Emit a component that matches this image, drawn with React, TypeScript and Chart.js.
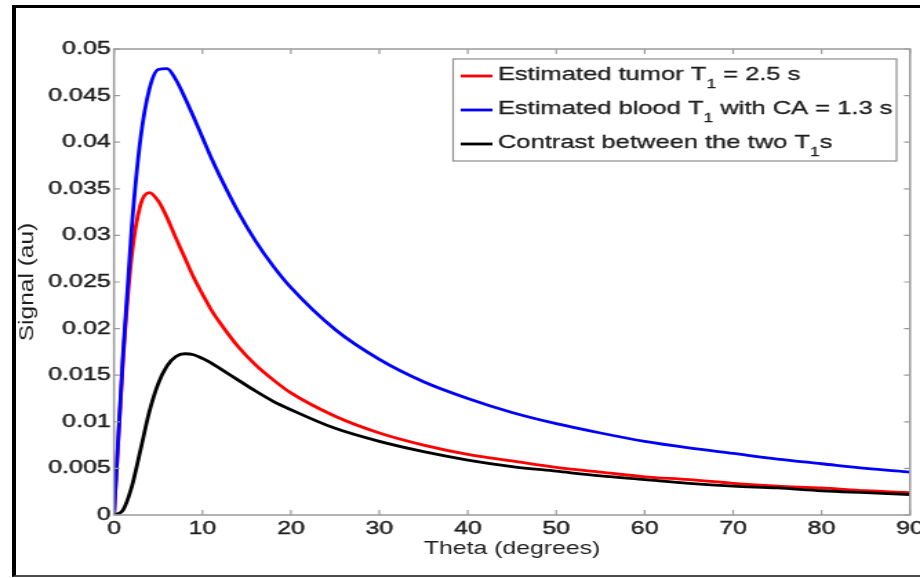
import React, { useEffect, useRef } from "react";
import { Chart, registerables } from "chart.js";

Chart.register(...registerables);

// ---- data ----
const thetaDeg = [0, 1, 2, 3, 4, 5, 6, 7, 8, 9, 10, 11, 12, 14, 16, 18, 20, 25, 30, 35, 40, 45, 50, 55, 60, 65, 70, 75, 80, 85, 90];
const tumorSignal = [0, 0.0164, 0.0278, 0.0333, 0.0346, 0.0337, 0.0319, 0.0297, 0.0276, 0.0255, 0.0237, 0.022, 0.0206, 0.0181, 0.0161, 0.0145, 0.0131, 0.0106, 0.0088, 0.0075, 0.0065, 0.0058, 0.0051, 0.0046, 0.0041, 0.0038, 0.0034, 0.0031, 0.0029, 0.0026, 0.0024];
const bloodSignal = [0, 0.0169, 0.0308, 0.0404, 0.0457, 0.0478, 0.0479, 0.0467, 0.0448, 0.0427, 0.0405, 0.0383, 0.0363, 0.0326, 0.0294, 0.0267, 0.0244, 0.0199, 0.0167, 0.0143, 0.0125, 0.011, 0.0098, 0.0088, 0.0079, 0.0072, 0.0066, 0.006, 0.0055, 0.005, 0.0046];
const contrastSignal = [0, 0.0005, 0.003, 0.007, 0.0111, 0.0141, 0.016, 0.017, 0.0173, 0.0172, 0.0168, 0.0163, 0.0157, 0.0145, 0.0133, 0.0122, 0.0113, 0.0093, 0.0079, 0.0068, 0.0059, 0.0052, 0.0047, 0.0042, 0.0038, 0.0034, 0.0031, 0.0029, 0.0026, 0.0024, 0.0022];

const seriesColors = ["#ff0000", "#0000ff", "#000000"];
const legendRows = [
  [{ t: "Estimated tumor T" }, { t: "1", sub: true }, { t: " = 2.5 s" }],
  [{ t: "Estimated blood T" }, { t: "1", sub: true }, { t: " with CA = 1.3 s" }],
  [{ t: "Contrast between the two T" }, { t: "1", sub: true }, { t: "s" }],
];
const xMin = 0, xMax = 90, xStep = 10;
const yMin = 0, yMax = 0.05, yStep = 0.005;
const xTitle = "Theta (degrees)";
const yTitle = "Signal (au)";

// ---- layout ----
const FULL_W = 920;
const H = 578;
const W = 667; // internal width; stretched horizontally to 920
const S = FULL_W / W;
const PLOT_LEFT = 114 / S;
const PLOT_RIGHT = 910 / S;
const PLOT_TOP = 49;
const PLOT_BOTTOM = 515;
const FONT = '"Liberation Sans", Arial, Helvetica, sans-serif';
const TEXT_COLOR = "#1e1e1e";
const AXIS_COLOR = "#9a9a9a";

const boxPlugin = {
  id: "matlabBox",
  afterDatasetsDraw(chart: any) {
    const { ctx, chartArea: a, scales } = chart;
    ctx.save();
    ctx.strokeStyle = AXIS_COLOR;
    ctx.lineWidth = 1.5;
    ctx.strokeRect(a.left, a.top, a.right - a.left, a.bottom - a.top);
    ctx.lineWidth = 1.2;
    ctx.beginPath();
    for (const t of scales.x.ticks) {
      const px = scales.x.getPixelForValue(t.value);
      ctx.moveTo(px, a.bottom); ctx.lineTo(px, a.bottom - 5);
      ctx.moveTo(px, a.top); ctx.lineTo(px, a.top + 5);
    }
    for (const t of scales.y.ticks) {
      const py = scales.y.getPixelForValue(t.value);
      ctx.moveTo(a.left, py); ctx.lineTo(a.left + 4.3, py);
      ctx.moveTo(a.right, py); ctx.lineTo(a.right - 4.3, py);
    }
    ctx.stroke();
    ctx.restore();
  },
};

const yTitlePlugin = {
  id: "yTitle",
  afterDraw(chart: any) {
    const ctx = chart.ctx;
    const a = chart.chartArea;
    ctx.save();
    ctx.translate(20, (a.top + a.bottom) / 2);
    ctx.rotate(-Math.PI / 2);
    ctx.scale(1.75, 1);
    ctx.font = `14px ${FONT}`;
    ctx.fillStyle = TEXT_COLOR;
    ctx.textAlign = "center";
    ctx.textBaseline = "middle";
    ctx.fillText(yTitle, 0, 0);
    ctx.restore();
  },
};

const legendPlugin = {
  id: "matlabLegend",
  afterDraw(chart: any) {
    const ctx = chart.ctx;
    const bx = 328.5, by = 59, bw = 321.5, bh = 102;
    ctx.save();
    ctx.fillStyle = "#ffffff";
    ctx.fillRect(bx, by, bw, bh);
    ctx.strokeStyle = "#8c8c8c";
    ctx.lineWidth = 1.2;
    ctx.strokeRect(bx, by, bw, bh);
    legendRows.forEach((row, i) => {
      const yLine = by + 17 + i * 34;
      ctx.strokeStyle = chart.data.datasets[i].borderColor;
      ctx.lineWidth = 2.8;
      ctx.beginPath();
      ctx.moveTo(334, yLine);
      ctx.lineTo(357, yLine);
      ctx.stroke();
      let x = 361;
      const base = yLine + 4;
      ctx.fillStyle = TEXT_COLOR;
      ctx.strokeStyle = TEXT_COLOR;
      ctx.lineWidth = 0.3;
      ctx.textBaseline = "alphabetic";
      ctx.textAlign = "left";
      for (const p of row as any[]) {
        ctx.font = p.sub ? `12.5px ${FONT}` : `18.5px ${FONT}`;
        const yy = p.sub ? base + 8 : base;
        ctx.fillText(p.t, x, yy);
        ctx.strokeText(p.t, x, yy);
        x += ctx.measureText(p.t).width;
      }
    });
    ctx.restore();
  },
};

export default function App() {
  const ref = useRef<HTMLCanvasElement | null>(null);

  useEffect(() => {
    document.body.style.margin = "0";
    const canvas = ref.current;
    if (!canvas) return;
    const mk = (vals: number[]) => thetaDeg.map((x, i) => ({ x, y: vals[i] }));
    const chart = new Chart(canvas, {
      type: "line",
      data: {
        datasets: [
          { label: "tumor", data: mk(tumorSignal), borderColor: seriesColors[0], order: 3 },
          { label: "blood", data: mk(bloodSignal), borderColor: seriesColors[1], order: 2 },
          { label: "contrast", data: mk(contrastSignal), borderColor: seriesColors[2], order: 1 },
        ].map((d) => ({
          ...d,
          borderWidth: 2.8,
          pointRadius: 0,
          fill: false,
          cubicInterpolationMode: "monotone" as const,
          backgroundColor: d.borderColor,
        })),
      },
      options: {
        animation: false,
        responsive: false,
        devicePixelRatio: 1,
        layout: { padding: { top: PLOT_TOP, right: W - PLOT_RIGHT, left: 0, bottom: 0 } },
        plugins: { legend: { display: false }, tooltip: { enabled: false } },
        scales: {
          x: {
            type: "linear",
            min: xMin,
            max: xMax,
            grid: { display: false, drawTicks: false },
            border: { display: false },
            ticks: {
              stepSize: xStep,
              padding: 3,
              color: TEXT_COLOR,
              textStrokeColor: TEXT_COLOR,
              textStrokeWidth: 0.4,
              font: { family: FONT, size: 18 },
              maxRotation: 0,
              autoSkip: false,
            },
            title: {
              display: true,
              text: xTitle,
              color: TEXT_COLOR,
              font: { family: FONT, size: 18 },
              padding: { top: 0, bottom: 18 },
            },
            afterFit: (s: any) => {
              s.height = H - PLOT_BOTTOM;
              s.paddingLeft = 0;
              s.paddingRight = 0;
            },
          },
          y: {
            type: "linear",
            min: yMin,
            max: yMax,
            grid: { display: false, drawTicks: false },
            border: { display: false },
            ticks: {
              stepSize: yStep,
              padding: 2.5,
              color: TEXT_COLOR,
              textStrokeColor: TEXT_COLOR,
              textStrokeWidth: 0.4,
              font: { family: FONT, size: 18 },
              autoSkip: false,
              callback: (v: any) => String(Number(Number(v).toFixed(4))),
            },
            title: { display: false },
            afterFit: (s: any) => {
              s.width = PLOT_LEFT;
              s.paddingTop = 0;
              s.paddingBottom = 0;
            },
          },
        },
      },
      plugins: [boxPlugin, legendPlugin, yTitlePlugin],
    } as any);
    return () => chart.destroy();
  }, []);

  return (
    <div style={{ position: "absolute", left: 0, top: 0, width: FULL_W, height: H, overflow: "hidden", background: "#fff" }}>
      <div
        style={{
          position: "absolute",
          left: 0,
          top: 0,
          width: W,
          height: H,
          transform: `scaleX(${S})`,
          transformOrigin: "0 0",
        }}
      >
        <canvas ref={ref} width={W} height={H} style={{ display: "block" }} />
      </div>
      <div
        style={{
          position: "absolute",
          left: 12,
          top: 5,
          width: FULL_W - 12,
          height: 572,
          boxSizing: "border-box",
          borderLeft: "4px solid #000",
          borderTop: "3px solid #000",
          borderBottom: "2px solid #4a4a4a",
          pointerEvents: "none",
        }}
      />
    </div>
  );
}
